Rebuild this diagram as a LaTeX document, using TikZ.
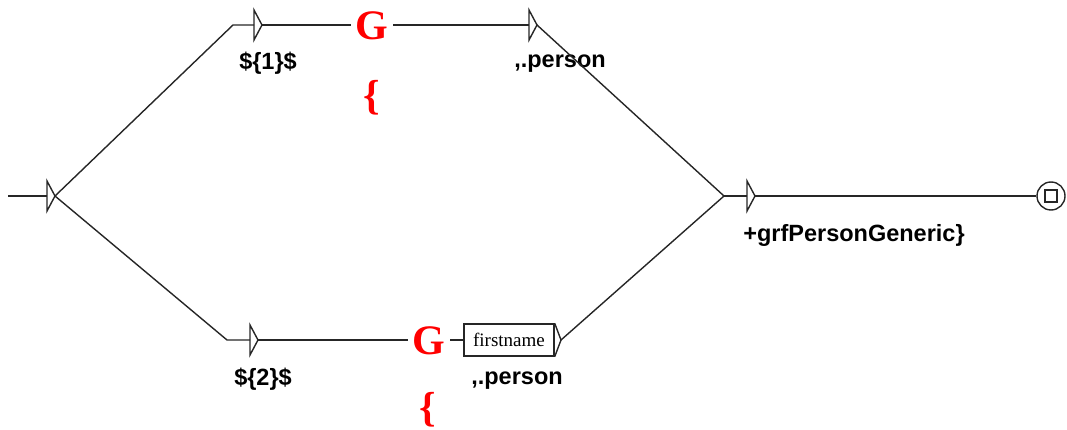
\documentclass[tikz,border=0pt]{standalone}
\usepackage{fontspec}
\setmainfont{Liberation Serif}
\newfontfamily\labfont{Liberation Sans}
\begin{document}
\begin{tikzpicture}[x=1pt,y=-1pt,
  wire/.style={draw=black!85, line width=1.4pt},
  lab/.style={font=\labfont\bfseries\fontsize{23.5}{25}\selectfont, inner sep=0pt},
  gram/.style={font=\bfseries\fontsize{42}{44}\selectfont, text=red, inner xsep=4.5pt, inner ysep=0pt},
  brace/.style={font=\bfseries\fontsize{42}{44}\selectfont, text=red, inner sep=0pt},
  tbox/.style={draw=black!85, line width=1.4pt, font=\fontsize{19}{21}\selectfont, minimum width=90pt, minimum height=32pt, inner sep=2pt}]
\useasboundingbox (0,0) rectangle (1067,430);
% initial state
\coordinate (s0) at (8,196);
\coordinate (iin) at (47,196);
\coordinate (iout) at (55,196);
\draw[wire] (s0) -- (iin);
\draw[wire] (47,181) -- (iout) -- (47,211) -- cycle;
% top path
\coordinate (b1) at (233,25);
\coordinate (t1in) at (254,25);
\coordinate (t1out) at (262,25);
\draw[wire] (254,10) -- (t1out) -- (254,40) -- cycle;
\node[gram] (g1) at (372,26) {G};
\coordinate (t2in) at (529,25);
\coordinate (t2out) at (537,25);
\draw[wire] (529,10) -- (t2out) -- (529,40) -- cycle;
\draw[wire] (iout) -- (b1) -- (t1in);
\draw[wire] (t1out) -- (g1.west |- t1out);
\draw[wire] (g1.east |- t2in) -- (t2in);
\node[lab] (l1) at (268,63) {\$\{1\}\$};
\node[lab] (l2) at (560,64) {,.person};
\node[brace] (br1) at (372,98) {\{};
% bottom path
\coordinate (b2) at (227,340);
\coordinate (t4in) at (250,340);
\coordinate (t4out) at (258,340);
\draw[wire] (250,325) -- (t4out) -- (250,355) -- cycle;
\node[gram] (g2) at (429,341) {G};
\node[tbox] (fn) at (509,340) {firstname};
\coordinate (fnout) at (561,340);
\draw[wire] (fn.north east) -- (fnout) -- (fn.south east);
\draw[wire] (iout) -- (b2) -- (t4in);
\draw[wire] (t4out) -- (g2.west |- t4out);
\draw[wire] (g2.east |- fn.west) -- (fn.west);
\node[lab] (l3) at (263,379) {\$\{2\}\$};
\node[lab] (l4) at (517,381) {,.person};
\node[brace] (br2) at (428,410) {\{};
% merge and final
\coordinate (m) at (724,196);
\coordinate (t3in) at (747,196);
\coordinate (t3out) at (755,196);
\draw[wire] (t2out) -- (m);
\draw[wire] (fnout) -- (m);
\draw[wire] (m) -- (t3in);
\draw[wire] (747,181) -- (t3out) -- (747,211) -- cycle;
\node[lab] (l5) at (854,235) {+grfPersonGeneric\}};
\node[draw=black!85, line width=1.4pt, circle, minimum size=28pt, inner sep=0pt] (fin) at (1051,196) {};
\node[draw=black!85, line width=1.4pt, minimum size=12pt, inner sep=0pt] (finsq) at (fin.center) {};
\draw[wire] (t3out) -- (fin.west);
\end{tikzpicture}
\end{document}
